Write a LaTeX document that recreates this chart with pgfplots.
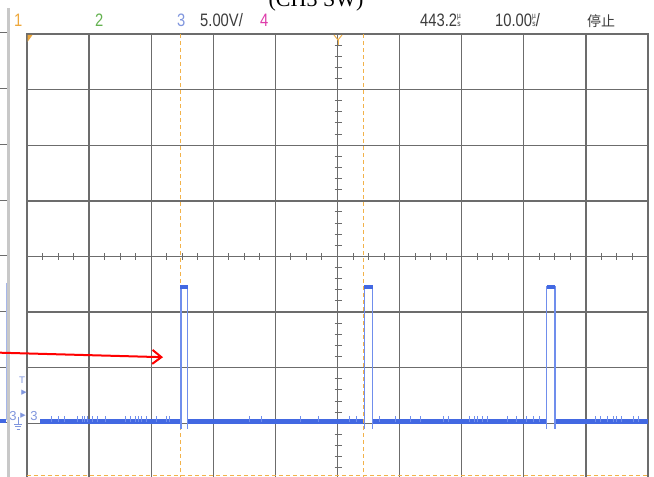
\documentclass[border=0pt]{standalone}
\usepackage{pgfplots}
\pgfplotsset{compat=1.18}
\usepackage{fontspec}
\setmainfont{Liberation Sans}
\newfontfamily\seriffont{Liberation Serif}
\newfontfamily\cjk{Noto Sans CJK SC}
\newfontfamily\dejavu{DejaVu Sans}
\usetikzlibrary{arrows.meta}
\definecolor{gridgray}{RGB}{108,108,108}
\definecolor{cursor}{RGB}{242,178,74}
\definecolor{tracedark}{RGB}{66,104,226}
\definecolor{tracelight}{RGB}{112,142,236}
\definecolor{chone}{RGB}{238,168,60}
\definecolor{chtwo}{RGB}{100,178,80}
\definecolor{chthree}{RGB}{128,150,222}
\definecolor{chfour}{RGB}{222,60,170}
\definecolor{txtgray}{RGB}{60,60,60}
\definecolor{leftgray}{RGB}{200,200,200}
\newcommand{\bt}[1]{\scalebox{0.82}[1]{\fontsize{18}{20}\selectfont #1}}
\newcommand{\us}{\raisebox{0pt}{\fontsize{8}{8.6}\selectfont\shortstack{µ\\s}}}
\begin{document}
\begin{tikzpicture}[x=1pt,y=1pt]
\useasboundingbox (0,0) rectangle (654,477);
\clip (0,0) rectangle (654,477);
\fill[white] (0,0) rectangle (654,477);
% left panel remnants
\fill[leftgray] (7,0) rectangle (10,469);
\draw[gridgray, line width=1pt] (0,444) -- (7,444);
\foreach \py in {89,145,201,256,312,368,423} {
  \draw[gridgray, line width=1pt] (0,477-\py) -- (7,477-\py);
}
\draw[chthree!70, line width=1pt] (6,194) -- (6,57);
\draw[tracedark, line width=4pt] (0,56) -- (6,56);

\begin{axis}[
  at={(27pt,-2pt)}, anchor=south west,
  scale only axis, width=621pt, height=445pt,
  xmin=0, xmax=10, ymin=-4, ymax=4,
  xtick={0,1,...,10}, ytick={-4,-3,...,4},
  xticklabels={}, yticklabels={},
  major tick length=0pt,
  grid=major,
  major grid style={gridgray, line width=1.3pt},
  axis line style={gridgray, line width=1.3pt},
  unbounded coords=jump,
  clip=false,
]
% cursors
\draw[cursor, line width=1pt, dash pattern=on 4pt off 3pt] (axis cs:2.464,-4) -- (axis cs:2.464,4);
\draw[cursor, line width=1pt, dash pattern=on 4pt off 3pt] (axis cs:5.411,-4) -- (axis cs:5.411,4);
\draw[cursor, line width=1pt, dash pattern=on 4pt off 3pt] (axis cs:0,-3.93) -- (axis cs:10,-3.93);
% baseline (thick)
\addplot[tracedark, line width=4.5pt] coordinates {
  (0.21,-2.97) (2.46,-2.97) (nan,nan)
  (2.60,-2.97) (5.41,-2.97) (nan,nan)
  (5.57,-2.97) (8.36,-2.97) (nan,nan)
  (8.51,-2.97) (10,-2.97)
};
% noise spikes on baseline
\addplot[tracelight, line width=1pt] coordinates {
  (0.40,-2.97)(0.40,-2.86)(nan,nan) (0.50,-2.97)(0.50,-2.86)(nan,nan)
  (0.61,-2.97)(0.61,-2.86)(nan,nan) (0.82,-2.97)(0.82,-2.86)(nan,nan)
  (0.89,-2.97)(0.89,-2.86)(nan,nan) (0.93,-2.97)(0.93,-2.86)(nan,nan)
  (0.98,-2.97)(0.98,-2.86)(nan,nan) (1.06,-2.97)(1.06,-2.86)(nan,nan)
  (1.13,-2.97)(1.13,-2.86)(nan,nan) (1.26,-2.97)(1.26,-2.86)(nan,nan)
  (1.58,-2.97)(1.58,-2.86)(nan,nan) (1.66,-2.97)(1.66,-2.86)(nan,nan)
  (1.74,-2.97)(1.74,-2.86)(nan,nan) (1.79,-2.97)(1.79,-2.86)(nan,nan)
  (1.85,-2.97)(1.85,-2.86)(nan,nan) (1.93,-2.97)(1.93,-2.86)(nan,nan)
  (2.09,-2.97)(2.09,-2.86)(nan,nan) (2.25,-2.97)(2.25,-2.86)(nan,nan)
  (2.30,-2.97)(2.30,-2.86)(nan,nan) (3.59,-2.97)(3.59,-2.86)(nan,nan)
  (3.78,-2.97)(3.78,-2.86)(nan,nan) (4.40,-2.97)(4.40,-2.86)(nan,nan)
  (4.69,-2.97)(4.69,-2.86)(nan,nan) (5.20,-2.97)(5.20,-2.86)(nan,nan)
  (5.30,-2.97)(5.30,-2.86)(nan,nan) (5.68,-2.97)(5.68,-2.86)(nan,nan)
  (5.93,-2.97)(5.93,-2.86)(nan,nan) (6.17,-2.97)(6.17,-2.86)(nan,nan)
  (6.33,-2.97)(6.33,-2.86)(nan,nan) (6.70,-2.97)(6.70,-2.86)(nan,nan)
  (6.78,-2.97)(6.78,-2.86)(nan,nan) (7.13,-2.97)(7.13,-2.86)(nan,nan)
  (7.21,-2.97)(7.21,-2.86)(nan,nan) (7.26,-2.97)(7.26,-2.86)(nan,nan)
  (7.33,-2.97)(7.33,-2.86)(nan,nan) (7.42,-2.97)(7.42,-2.86)(nan,nan)
  (7.73,-2.97)(7.73,-2.86)(nan,nan) (7.89,-2.97)(7.89,-2.86)(nan,nan)
  (8.05,-2.97)(8.05,-2.86)(nan,nan) (8.15,-2.97)(8.15,-2.86)(nan,nan)
  (8.26,-2.97)(8.26,-2.86)(nan,nan) (9.15,-2.97)(9.15,-2.86)(nan,nan)
  (9.23,-2.97)(9.23,-2.86)(nan,nan) (9.34,-2.97)(9.34,-2.86)(nan,nan)
  (9.44,-2.97)(9.44,-2.86)(nan,nan) (9.50,-2.97)(9.50,-2.86)(nan,nan)
  (9.58,-2.97)(9.58,-2.86)(nan,nan) (9.76,-2.97)(9.76,-2.86)(nan,nan)
  (9.84,-2.97)(9.84,-2.86)
};
% pulses (thin edges)
\addplot[tracelight, line width=1.3pt] coordinates {
  (2.48,-3.10) (2.48,-0.55) (2.58,-0.55) (2.58,-3.10) (nan,nan)
  (5.43,-3.10) (5.43,-0.55) (5.56,-0.55) (5.56,-3.10) (nan,nan)
  (8.37,-3.10) (8.37,-0.55) (8.50,-0.55) (8.50,-3.10)
};
% pulse tops (thick)
\addplot[tracedark, line width=3.5pt] coordinates {
  (2.47,-0.55) (2.59,-0.55) (nan,nan)
  (5.43,-0.55) (5.57,-0.55) (nan,nan)
  (8.37,-0.55) (8.51,-0.55)
};
\end{axis}

% minor ticks on centre lines
\foreach \k in {1,...,39} {
  \pgfmathtruncatemacro\m{mod(\k,4)}
  \ifnum\m=0\else
    \draw[gridgray, line width=1pt] (27+15.525*\k,217) -- (27+15.525*\k,224);
  \fi
}
\foreach \k in {1,...,39} {
  \pgfmathtruncatemacro\m{mod(\k,5)}
  \ifnum\m=0\else
    \draw[gridgray, line width=1pt] (334.5,-2+11.125*\k) -- (341.5,-2+11.125*\k);
  \fi
}

% trigger markers
\fill[chone] (27.5,442) -- (32.5,442) -- (27.5,435) -- cycle;
\draw[cursor, line width=1pt] (334,442) -- (338,437) -- (342,442);
\draw[cursor, line width=1pt] (338,437) -- (338,432);

% left channel labels
\node[text=chthree, inner sep=0, anchor=base] at (22,93) {\dejavu\fontsize{9}{10}\selectfont T};
\node[text=chthree, inner sep=0] at (24,84) {\dejavu\fontsize{7}{8}\selectfont ▶};
\node[text=chthree, inner sep=0, anchor=base] at (13,56) {\fontsize{13}{14}\selectfont 3};
\node[text=chthree, inner sep=0] at (23,61) {\dejavu\fontsize{7}{8}\selectfont ▶};
\node[text=chthree, inner sep=0, anchor=base] at (34,56) {\fontsize{13}{14}\selectfont 3};
\draw[chthree, line width=0.8pt] (18,60) -- (18,53) (14,53) -- (22,53) (15,50.5) -- (21,50.5) (16.5,48) -- (19.5,48);

% red arrow
\draw[red, line width=2pt, -{Straight Barb[length=9pt,width=14pt]}] (0,124.3) -- (163,119.8);

% top bar
\node[anchor=base west, inner sep=0, text=chone] at (14,450) {\bt{1}};
\node[anchor=base west, inner sep=0, text=chtwo] at (95,450) {\bt{2}};
\node[anchor=base west, inner sep=0, text=chthree] at (177,450) {\bt{3}};
\node[anchor=base west, inner sep=0, text=txtgray] at (200,450) {\bt{5.00V/}};
\node[anchor=base west, inner sep=0, text=chfour] at (260,450) {\bt{4}};
\node[anchor=base west, inner sep=0, text=txtgray] at (420,450) {\bt{443.2\us}};
\node[anchor=base west, inner sep=0, text=txtgray] at (495,450) {\bt{10.00\us/}};
\node[anchor=base west, inner sep=0, text=txtgray] at (587,450) {\cjk\fontsize{14}{16}\selectfont 停止};

% clipped title
\node[anchor=base, inner sep=0] at (316,470) {\seriffont\fontsize{22}{24}\selectfont (CH3 SW)};
\end{tikzpicture}
\end{document}
